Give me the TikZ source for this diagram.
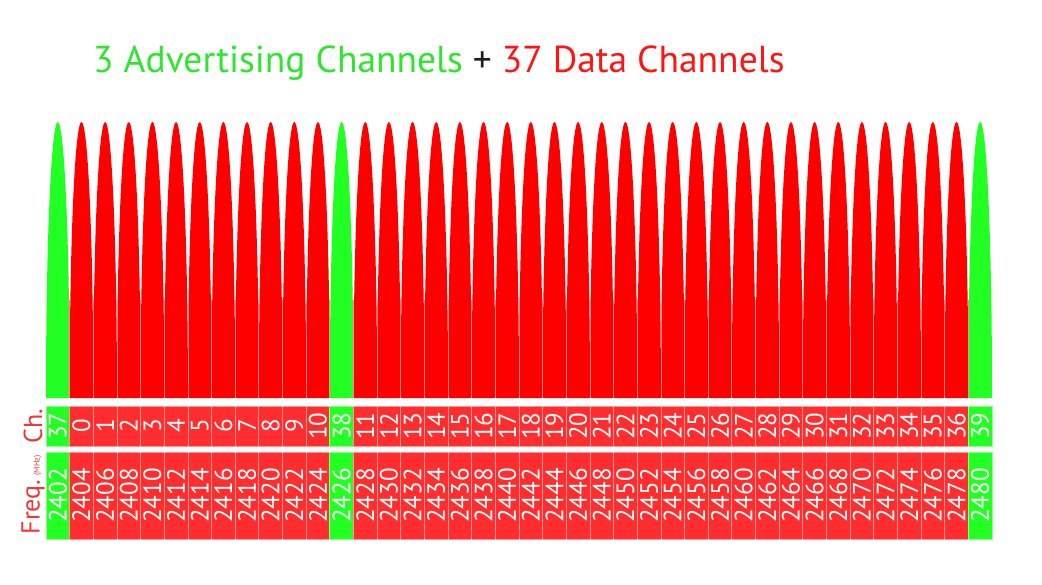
\documentclass[tikz,border=0pt]{standalone}
\usepackage{fontspec}
\setmainfont{PT Sans}
\definecolor{grn}{RGB}{34,255,34}
\definecolor{rd}{RGB}{255,0,0}
\definecolor{rdl}{RGB}{255,45,45}
\definecolor{ttlg}{RGB}{45,230,45}
\definecolor{ttlr}{RGB}{255,20,20}
\definecolor{lblr}{RGB}{238,55,55}
\definecolor{plus}{RGB}{30,30,30}
\begin{document}
\begin{tikzpicture}[x=1pt,y=-1pt,
  cell/.style={rotate=90, inner sep=0pt, text=white, line width=0.8pt,
    font=\fontsize{25}{25}\selectfont},
  rowlabel/.style={rotate=90, inner sep=0pt, text=lblr, font=\fontsize{26}{26}\selectfont},
  sep/.style={line width=0.8pt}]
\useasboundingbox (0,0) rectangle (1042,585);
\fill[white] (0,0) rectangle (1042,585);
\def\cw{23.65}
\pgfmathsetmacro\rx{\cw/2}
\foreach \i in {0,...,39} {
  \pgfmathsetmacro\xl{46+\cw*\i}
  \pgfmathsetmacro\xr{\xl+\cw}
  \pgfmathsetmacro\xc{\xl+\cw/2}
  \pgfmathtruncatemacro\fr{2402+2*\i}
  \ifnum\i=0 \def\chn{37}\def\cc{grn}\def\lc{grn}\else
  \ifnum\i=12 \def\chn{38}\def\cc{grn}\def\lc{grn}\else
  \ifnum\i=39 \def\chn{39}\def\cc{grn}\def\lc{grn}\else
  \ifnum\i<12 \pgfmathtruncatemacro\chn{\i-1}\else \pgfmathtruncatemacro\chn{\i-2}\fi
  \def\cc{rd}\def\lc{rdl}\fi\fi\fi
  \fill[\cc] (\xl,398) -- (\xl,392) arc[start angle=180, end angle=0, x radius=\rx pt, y radius=270pt] -- (\xr,398) -- cycle;
  \node[cell, fill=\lc, draw=white!50!\lc, minimum width=40, minimum height=\cw] (ch\i) at (\xc,426) {\chn};
  \node[cell, fill=\lc, draw=white!50!\lc, minimum width=87, minimum height=\cw] (fr\i) at (\xc,495.5) {\fr};
}
\foreach \i in {1,...,39} {
  \pgfmathsetmacro\xl{46+\cw*\i}
  \draw[sep, white!55!red] (\xl,300) -- (\xl,398);
}
\node[rowlabel] (chl) at (33,426) {Ch.};
\node[rowlabel] (frl) at (33,495) {Freq.\,{\fontsize{8}{8}\selectfont(MHz)}};
\node[anchor=base west, inner sep=0pt, font=\fontsize{37.5}{37.5}\selectfont] (title) at (93,73)
  {\textcolor{ttlg}{3 Advertising Channels} \textcolor{plus}{+} \textcolor{ttlr}{37 Data Channels}};
\end{tikzpicture}
\end{document}
